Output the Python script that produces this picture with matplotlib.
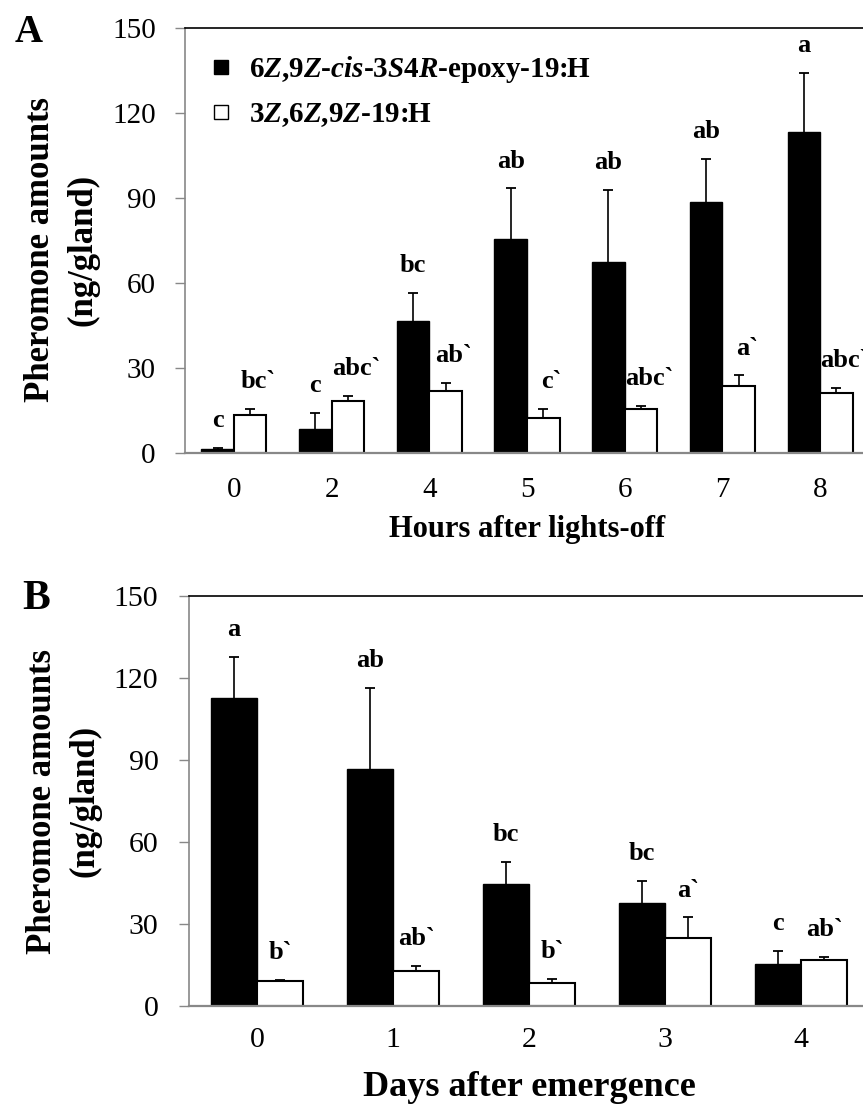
import numpy as np
import matplotlib
matplotlib.use('Agg')
import matplotlib.pyplot as plt
from matplotlib.lines import Line2D

plt.rcParams['font.family'] = ['Liberation Serif', 'DejaVu Serif']
plt.rcParams['mathtext.fontset'] = 'custom'
plt.rcParams['mathtext.rm'] = 'Liberation Serif:bold'
plt.rcParams['mathtext.it'] = 'Liberation Serif:italic:bold'
plt.rcParams['mathtext.bf'] = 'Liberation Serif:bold'

# panel A: hours after lights-off
hours = ['0', '2', '4', '5', '6', '7', '8']
epoxy_a = [1.3, 8.5, 46.7, 75.4, 67.4, 88.7, 113.4]
epoxy_a_err = [0.4, 5.5, 9.7, 18.0, 25.4, 15.0, 20.6]
triene_a = [13.3, 18.4, 22.0, 12.2, 15.5, 23.6, 21.1]
triene_a_err = [2.2, 1.8, 2.6, 3.3, 1.1, 3.8, 1.9]
epoxy_a_letters = ['c', 'c', 'bc', 'ab', 'ab', 'ab', 'a']
triene_a_letters = ['bc`', 'abc`', 'ab`', 'c`', 'abc`', 'a`', 'abc`']

# panel B: days after emergence
days = ['0', '1', '2', '3', '4']
epoxy_b = [112.8, 86.6, 44.8, 37.6, 15.2]
epoxy_b_err = [14.8, 29.9, 7.8, 8.3, 4.8]
triene_b = [9.1, 12.9, 8.4, 24.7, 16.7]
triene_b_err = [0.5, 1.7, 1.5, 7.7, 1.2]
epoxy_b_letters = ['a', 'ab', 'bc', 'bc', 'c']
triene_b_letters = ['b`', 'ab`', 'b`', 'a`', 'ab`']

epoxy_label = '6$Z$,9$Z$-$cis$-3$S$4$R$-epoxy-19:H'
triene_label = '3$Z$,6$Z$,9$Z$-19:H'

W, H = 863, 1108
fig = plt.figure(figsize=(W / 100, H / 100), dpi=100)


def px_axes(left, top, right, bottom):
    return fig.add_axes([left / W, 1 - bottom / H, (right - left) / W, (bottom - top) / H])


def upper_err(ax, xs, ys, errs):
    # one-sided error bars: stem from the bar top, cap only at the upper end
    tops = np.array(ys) + np.array(errs)
    ax.vlines(xs, ys, tops, colors='black', linewidth=1.2, zorder=3)
    ax.plot(xs, tops, linestyle='none', marker='_', markersize=7,
            markeredgewidth=1.3, color='black', zorder=3)


def draw_panel(ax, cats, black, black_err, white, white_err, black_lab, white_lab,
               width, tick_fs, tick_pad, xpad, white_shift):
    x = np.arange(len(cats))
    ax.bar(x - width / 2, black, width, color='black', edgecolor='black', linewidth=1.0, zorder=2)
    ax.bar(x + width / 2, white, width, color='white', edgecolor='black', linewidth=1.5, zorder=2)
    upper_err(ax, x - width / 2, black, black_err)
    upper_err(ax, x + width / 2, white, white_err)
    for i in range(len(x)):
        ax.annotate(black_lab[i], (x[i] - width / 2, black[i] + black_err[i]),
                    xytext=(0, 15), textcoords='offset points', ha='center', va='baseline',
                    fontsize=19, fontweight='bold', annotation_clip=False)
        ax.annotate(white_lab[i], (x[i] + width / 2, white[i] + white_err[i]),
                    xytext=(white_shift, 15), textcoords='offset points', ha='center',
                    va='baseline', fontsize=19, fontweight='bold', annotation_clip=False)
    ax.set_xlim(-0.5, len(cats) - 0.5)
    ax.set_ylim(0, 150)
    ax.set_yticks(np.arange(0, 151, 30))
    ax.set_xticks(x)
    ax.set_xticklabels(cats)
    ax.tick_params(axis='y', direction='out', length=7, width=1, color='#888888',
                   labelsize=tick_fs, pad=tick_pad)
    ax.tick_params(axis='x', length=0, labelsize=tick_fs, pad=xpad)
    ax.spines['right'].set_visible(False)
    ax.spines['top'].set_color('black')
    ax.spines['top'].set_linewidth(1.2)
    ax.spines['left'].set_color('#888888')
    ax.spines['left'].set_linewidth(1.2)
    ax.spines['bottom'].set_color('#888888')
    ax.spines['bottom'].set_linewidth(1.6)


ax_a = px_axes(185, 28, 869, 453)
draw_panel(ax_a, hours, epoxy_a, epoxy_a_err, triene_a, triene_a_err,
           epoxy_a_letters, triene_a_letters, 0.333, 21, 14, 17, 6)
ax_a.set_xlabel('Hours after lights-off', fontsize=22, fontweight='bold', va='center')
ax_a.xaxis.set_label_coords(0.5, -0.18)
ax_a.set_ylabel('Pheromone amounts\n(ng/gland)', fontsize=25, fontweight='bold',
                va='center', ha='center', linespacing=1.35)
ax_a.yaxis.set_label_coords(-0.18, 0.478)

handles = [Line2D([], [], marker='s', linestyle='none', markersize=9.5,
                  markerfacecolor='black', markeredgecolor='black'),
           Line2D([], [], marker='s', linestyle='none', markersize=9.5,
                  markerfacecolor='white', markeredgecolor='black', markeredgewidth=1.0)]
leg = ax_a.legend(handles, [epoxy_label, triene_label], loc='upper left',
                  bbox_to_anchor=(0.0, 1.0), frameon=False,
                  prop={'family': 'Liberation Serif', 'weight': 'bold', 'size': 21},
                  handlelength=0.7, handletextpad=0.6, labelspacing=0.55,
                  borderaxespad=0.3, borderpad=0.6)

ax_b = px_axes(189, 596, 869, 1006)
draw_panel(ax_b, days, epoxy_b, epoxy_b_err, triene_b, triene_b_err,
           epoxy_b_letters, triene_b_letters, 0.34, 21.5, 15, 15, 0)
ax_b.set_xlabel('Days after emergence', fontsize=26, fontweight='bold', va='center')
ax_b.xaxis.set_label_coords(0.5, -0.198)
ax_b.set_ylabel('Pheromone amounts\n(ng/gland)', fontsize=25, fontweight='bold',
                va='center', ha='center', linespacing=1.35)
ax_b.yaxis.set_label_coords(-0.184, 0.5)

fig.text(29 / W, 1 - 33 / H, 'A', fontsize=28, fontweight='bold', ha='center', va='center')
fig.text(36 / W, 1 - 599 / H, 'B', fontsize=30, fontweight='bold', ha='center', va='center')

fig.savefig('out.png', dpi=100)
